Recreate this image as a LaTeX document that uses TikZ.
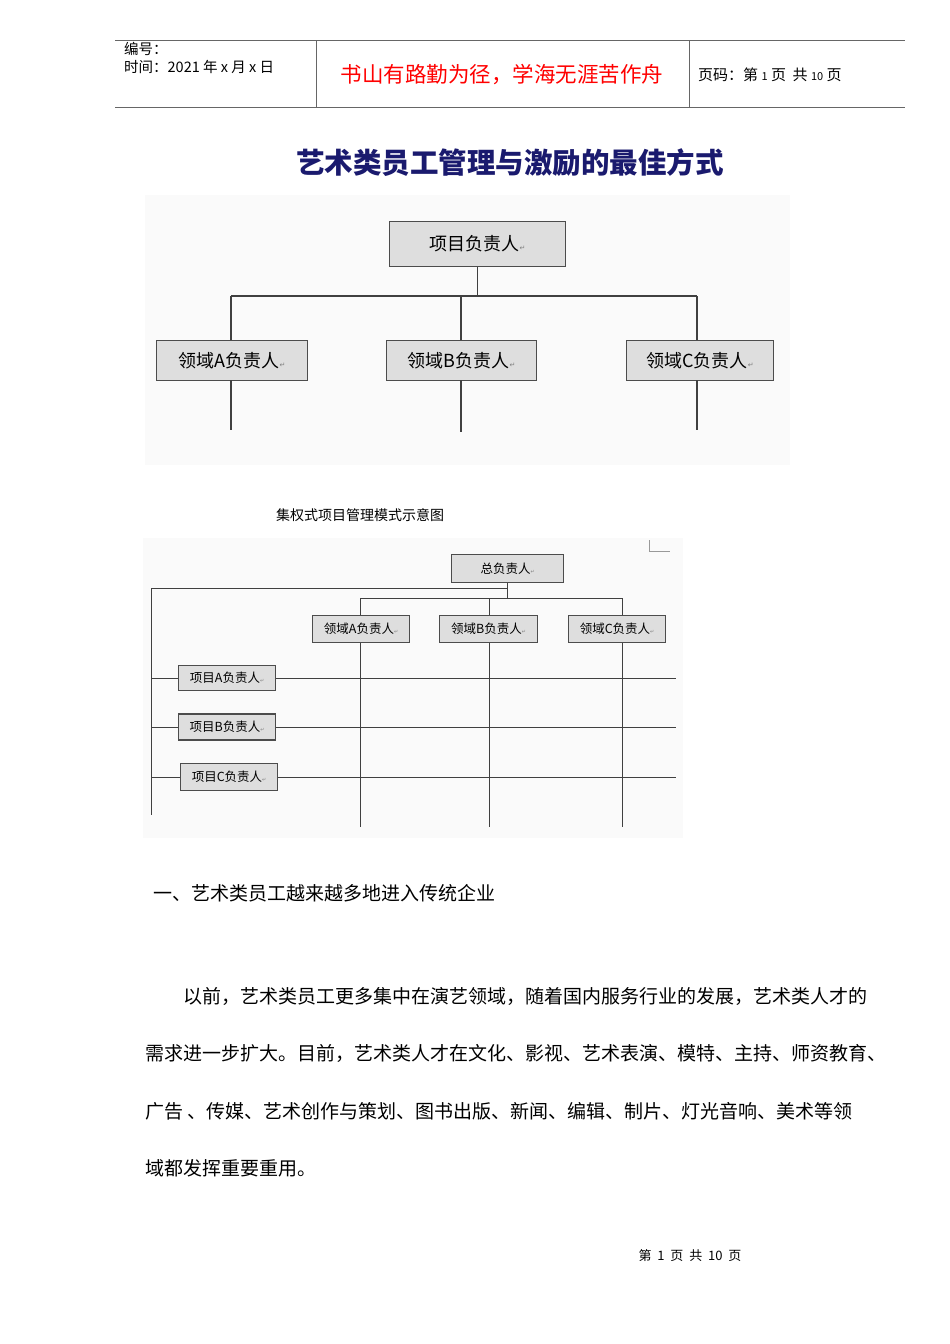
\documentclass[tikz,border=0pt]{standalone}
\usepackage{fontspec}
\setmainfont{Noto Sans CJK SC}
\newfontfamily\djv{DejaVu Sans}
\definecolor{navy}{HTML}{1A1A6E}
\definecolor{boxfill}{HTML}{DEDEDE}
\begin{document}
\begin{tikzpicture}[x=1pt,y=-1pt,
  bx/.style={draw=black!70,line width=1.2pt,fill=boxfill,inner sep=0pt,anchor=north west},
  bw/.style={draw=black!70,line width=1.2pt,fill=boxfill,inner sep=0pt,anchor=west},
  ln/.style={draw=black!75,line width=1.3pt},
  ln2/.style={draw=black!75,line width=1pt}]
\useasboundingbox (0,0) rectangle (950,1344);
\fill[white] (0,0) rectangle (950,1344);
% header
\draw[black!60,line width=0.8pt] (115,40) -- (905,40) (115,107) -- (905,107) (316,40) -- (316,107) (689,40) -- (689,107);
\node[anchor=north west,font=\fontsize{14.5}{18}\selectfont,align=left,inner sep=0pt] (hl) at (124,42) {编号：\\时间：2021 年 x 月 x 日};
\node[text=red,font=\fontsize{21.5}{24}\selectfont] (hm) at (502,75) {书山有路勤为径，学海无涯苦作舟};
\node[anchor=west,font=\fontsize{15}{18}\selectfont,inner sep=0pt] (hr) at (698,75) {页码：第 {\fontsize{11}{12}\selectfont 1} 页\ \ 共 {\fontsize{11}{12}\selectfont 10} 页};
% title
\node[text=navy,font=\bfseries\fontsize{28.5}{30}\selectfont] (title) at (510,163) {艺术类员工管理与激励的最佳方式};
% diagram 1
\fill[black!2] (145,195) rectangle (790,465);
\node[bx,minimum width=176pt,minimum height=45pt,font=\fontsize{18}{20}\selectfont] (top) at (389,221) {项目负责人{\djv\scriptsize\color{gray}↵}};
\node[bx,minimum width=151pt,minimum height=40pt,font=\fontsize{18}{20}\selectfont] (da) at (156,340) {领域A负责人{\djv\scriptsize\color{gray}↵}};
\node[bx,minimum width=150pt,minimum height=40pt,font=\fontsize{18}{20}\selectfont] (db) at (386,340) {领域B负责人{\djv\scriptsize\color{gray}↵}};
\node[bx,minimum width=147pt,minimum height=40pt,font=\fontsize{18}{20}\selectfont] (dc) at (626,340) {领域C负责人{\djv\scriptsize\color{gray}↵}};
\coordinate (hA) at (231,296); \coordinate (hC) at (697,296);
\draw[ln] (top.south) -- (top.south |- hA);
\draw[ln] (hA) -- (hC);
\draw[ln] (hA) -- (231,340); \draw[ln] (461,296) -- (461,340); \draw[ln] (hC) -- (697,340);
\coordinate (ea) at (231,430); \coordinate (eb) at (461,432); \coordinate (ec) at (697,430);
\draw[ln] (231,380) -- (ea); \draw[ln] (461,380) -- (eb); \draw[ln] (697,380) -- (ec);
\node[font=\fontsize{14}{16}\selectfont] (cap) at (360,515) {集权式项目管理模式示意图};
% diagram 2
\fill[black!2] (143,538) rectangle (683,838);
\draw[black!40,line width=0.6pt] (649,540) -- (649,551) -- (670,551);
\node[bx,minimum width=112pt,minimum height=28pt,font=\fontsize{12.5}{14}\selectfont] (tot) at (451,554) {总负责人{\djv\tiny\color{gray}↵}};
\node[bx,minimum width=97pt,minimum height=27pt,font=\fontsize{12.5}{14}\selectfont] (fa) at (312,615) {领域A负责人{\djv\tiny\color{gray}↵}};
\node[bx,minimum width=98pt,minimum height=27pt,font=\fontsize{12.5}{14}\selectfont] (fb) at (439,615) {领域B负责人{\djv\tiny\color{gray}↵}};
\node[bx,minimum width=97pt,minimum height=27pt,font=\fontsize{12.5}{14}\selectfont] (fc) at (568,615) {领域C负责人{\djv\tiny\color{gray}↵}};
\coordinate (j1) at (500,588);
\draw[ln2] (tot.south) -- (tot.south |- j1);
\draw[ln2] (151,588) -- (tot.south |- j1) -- (tot.south |- 0,598);
\draw[ln2] (151,588) -- (151,815);
\draw[ln2] (360,598) -- (622,598);
\foreach \x in {360,489,622} {\draw[ln2] (\x,598) -- (\x,615); \draw[ln2] (\x,643) -- (\x,827);}
\node[bw,minimum width=97pt,minimum height=25pt,font=\fontsize{12.5}{14}\selectfont] (pa) at (178,678) {项目A负责人{\djv\tiny\color{gray}↵}};
\node[bw,minimum width=97pt,minimum height=26pt,font=\fontsize{12.5}{14}\selectfont] (pb) at (178,727) {项目B负责人{\djv\tiny\color{gray}↵}};
\node[bw,minimum width=97pt,minimum height=27pt,font=\fontsize{12.5}{14}\selectfont] (pc) at (180,777) {项目C负责人{\djv\tiny\color{gray}↵}};
\draw[ln2] (151,678) -- (pa.west) (pa.east) -- (676,678);
\draw[ln2] (151,727) -- (pb.west) (pb.east) -- (676,727);
\draw[ln2] (151,777) -- (pc.west) (pc.east) -- (676,777);
% text
\begin{scope}[every node/.style={anchor=west,inner sep=0pt,font=\fontsize{19}{22}\selectfont}]
\node (s1) at (153,893) {一、艺术类员工越来越多地进入传统企业};
\node (p1) at (183,996) {以前，艺术类员工更多集中在演艺领域，随着国内服务行业的发展，艺术类人才的};
\node (p2) at (145,1053) {需求进一步扩大。目前，艺术类人才在文化、影视、艺术表演、模特、主持、师资教育、};
\node (p3) at (145,1111) {广告\ 、传媒、艺术创作与策划、图书出版、新闻、编辑、制片、灯光音响、美术等领};
\node (p4) at (145,1168) {域都发挥重要重用。};
\end{scope}
\node[font=\fontsize{13}{15}\selectfont] (ft) at (690,1256) {第\ \ 1\ \ 页\ \ 共\ \ 10\ \ 页};
\end{tikzpicture}
\end{document}
